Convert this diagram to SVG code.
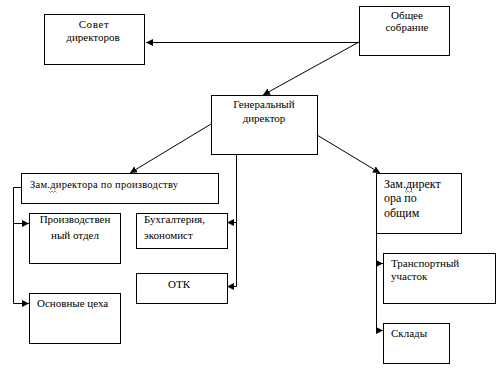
<svg xmlns="http://www.w3.org/2000/svg" width="502" height="369" viewBox="0 0 502 369">
<style>
.box{fill:#fff;stroke:#000;stroke-width:1}
.t{font-family:"Liberation Serif","Times New Roman","DejaVu Serif",serif;font-size:11px;fill:#000}
.c{text-anchor:middle}
.ln{stroke:#000;stroke-width:1;fill:none}
.arr{marker-end:url(#ah)}
.sq{fill:none;stroke:#2a9d2a;stroke-width:0.8}
</style>
<defs>
<marker id="ah" markerUnits="userSpaceOnUse" markerWidth="7" markerHeight="7" refX="7" refY="3.5" orient="auto">
<path d="M0,0 L7,3.5 L0,7 z" fill="#000"/>
</marker>
</defs>
<rect width="502" height="369" fill="#fff"/>
<g id="connectors">
<line class="ln arr" x1="359" y1="42.5" x2="146" y2="42.5"/>
<line class="ln arr" x1="359" y1="42" x2="263" y2="95"/>
<line class="ln arr" x1="211" y1="124" x2="130" y2="173"/>
<line class="ln arr" x1="317" y1="135" x2="380" y2="173"/>
<polyline class="ln" points="236.5,154 236.5,286.5"/>
<line class="ln arr" x1="236.5" y1="222.5" x2="227" y2="222.5"/>
<line class="ln arr" x1="236.5" y1="286.5" x2="227" y2="286.5"/>
<polyline class="ln" points="21,187.5 13.5,187.5 13.5,303.5"/>
<line class="ln arr" x1="13.5" y1="223.5" x2="29" y2="223.5"/>
<line class="ln arr" x1="13.5" y1="303.5" x2="29" y2="303.5"/>
<polyline class="ln" points="376.5,233 376.5,330.5"/>
<line class="ln arr" x1="376.5" y1="263.5" x2="383" y2="263.5"/>
<line class="ln arr" x1="376.5" y1="330.5" x2="383" y2="330.5"/>
</g>
<g id="sovet">
<rect class="box" x="44.5" y="14.5" width="100" height="50"/>
<text class="t c" x="94" y="28" letter-spacing="0.6">Совет</text>
<text class="t c" x="93" y="41">директоров</text>
</g>
<g id="obshchee">
<rect class="box" x="359.5" y="6.5" width="90" height="49"/>
<text class="t c" x="407" y="19">Общее</text>
<text class="t c" x="407" y="31">собрание</text>
</g>
<g id="gendir">
<rect class="box" x="211.5" y="95.5" width="106" height="59"/>
<text class="t c" x="264" y="108">Генеральный</text>
<text class="t c" x="264" y="122">директор</text>
</g>
<g id="zam-proizv">
<rect class="box" x="21.5" y="173.5" width="197" height="30"/>
<text class="t" x="30" y="188" style="font-size:10.5px" textLength="148">Зам.директора по производству</text>
<polyline class="sq" points="49,191 50.5,192.5 52,191 53.5,192.5 55,191 56.5,192.5"/>
</g>
<g id="zam-obshch">
<rect class="box" x="376.5" y="173.5" width="85" height="60"/>
<text class="t" x="384" y="188" style="font-size:12px">Зам.директ</text>
<text class="t" x="384" y="202" style="font-size:12px">ора по</text>
<text class="t" x="384" y="217" style="font-size:12px">общим</text>
<polyline class="sq" points="405,191 406.5,192.5 408,191 409.5,192.5 411,191 412.5,192.5"/>
</g>
<g id="proizv-otdel">
<rect class="box" x="29.5" y="213.5" width="91" height="50"/>
<text class="t c" x="75" y="223">Производствен</text>
<text class="t c" x="75" y="239">ный отдел</text>
</g>
<g id="tsekha">
<rect class="box" x="29.5" y="293.5" width="91" height="50"/>
<text class="t" x="37" y="307">Основные цеха</text>
</g>
<g id="buh">
<rect class="box" x="136.5" y="213.5" width="91" height="35"/>
<text class="t" x="144" y="223">Бухгалтерия,</text>
<text class="t" x="144" y="239">экономист</text>
</g>
<g id="otk">
<rect class="box" x="136.5" y="273.5" width="91" height="30"/>
<text class="t c" x="179" y="288">ОТК</text>
</g>
<g id="transport">
<rect class="box" x="383.5" y="253.5" width="112" height="50"/>
<text class="t" x="391" y="267">Транспортный</text>
<text class="t" x="391" y="280">участок</text>
</g>
<g id="sklady">
<rect class="box" x="383.5" y="323.5" width="66" height="40"/>
<text class="t" x="391" y="337">Склады</text>
</g>
</svg>
